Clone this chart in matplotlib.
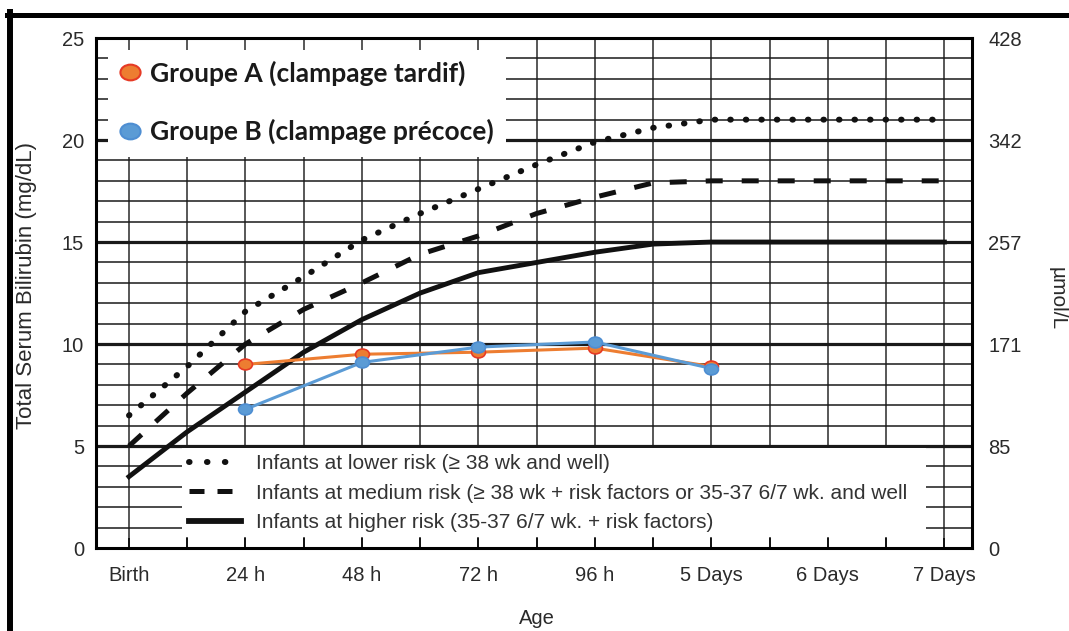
import matplotlib
matplotlib.use("Agg")
import matplotlib.pyplot as plt
from matplotlib.lines import Line2D
from matplotlib.patches import Rectangle
from matplotlib.path import Path

# reference curves (hours after birth -> total serum bilirubin, mg/dL)
curve_hours = [0, 12, 24, 36, 48, 60, 72, 84, 96, 108, 120, 132, 144, 156, 168]
lower_risk = [6.5, 8.9, 11.6, 13.3, 15.1, 16.4, 17.6, 18.8, 19.9, 20.6, 21.0, 21.0, 21.0, 21.0, 21.0]
medium_risk = [5.0, 7.6, 10.0, 11.7, 13.0, 14.4, 15.3, 16.4, 17.2, 17.9, 18.0, 18.0, 18.0, 18.0, 18.0]
higher_risk = [3.5, 5.7, 7.65, 9.6, 11.2, 12.5, 13.5, 14.0, 14.5, 14.9, 15.0, 15.0, 15.0, 15.0, 15.0]

# study groups
group_hours = [24, 48, 72, 96, 120]
group_a = [9.0, 9.5, 9.6, 9.8, 8.9]
group_b = [6.8, 9.1, 9.85, 10.1, 8.8]

tick_hours = [0, 24, 48, 72, 96, 120, 144, 168]
tick_labels = ["Birth", "24 h", "48 h", "72 h", "96 h", "5 Days", "6 Days", "7 Days"]
mg_ticks = [0, 5, 10, 15, 20, 25]
umol_labels = ["0", "85", "171", "257", "342", "428"]

risk_labels = [
    "Infants at lower risk (\u2265 38 wk and well)",
    "Infants at medium risk (\u2265 38 wk + risk factors or 35-37 6/7 wk. and well",
    "Infants at higher risk (35-37 6/7 wk. + risk factors)",
]
group_labels = ["Groupe A (clampage tardif)", "Groupe B (clampage pr\u00e9coce)"]

plt.rcParams["font.family"] = ["Liberation Sans", "DejaVu Sans"]

ORANGE = "#ED7D31"
ORANGE_EDGE = "#E63A25"
BLUE = "#5B9BD5"
BLUE_EDGE = "#4E8ED2"
INK = "#111111"
GREY_TXT = "#2a2a2a"

circ = Path.unit_circle()
ellipse = Path(circ.vertices * [1.0, 0.78], circ.codes)

dotted = (0, (0.1, 2.5))
dashed = (0, (3.4, 3.8))

fig = plt.figure(figsize=(10.69, 6.31), dpi=100)
ax = fig.add_axes([0.0898, 0.1315, 0.8195, 0.8082])
ax.set_xlim(-6.8, 173.7)
ax.set_ylim(0, 25)
ax.set_axisbelow(False)

# chart-paper grid
for h in range(0, 169, 12):
    ax.axvline(h, color="#2a2a2a", lw=1.1, zorder=1)
for v in range(1, 25):
    ax.axhline(v, color="#1a1a1a", lw=2.3 if v % 5 == 0 else 1.1, zorder=1)

# white areas behind the legends
ax.add_patch(Rectangle((0.098, 0.022), 0.849, 0.175, transform=ax.transAxes,
                       facecolor="white", edgecolor="none", zorder=2))
ax.add_patch(Rectangle((0.0137, 0.767), 0.454, 0.209, transform=ax.transAxes,
                       facecolor="white", edgecolor="none", zorder=2))

ax.plot(curve_hours, lower_risk, color=INK, lw=4.3, ls=dotted,
        dash_capstyle="round", zorder=3)
ax.plot(curve_hours, medium_risk, color=INK, lw=3.6, ls=dashed, zorder=3)
ax.plot(curve_hours, higher_risk, color=INK, lw=3.5, zorder=3)

ax.plot(group_hours, group_a, color=ORANGE, lw=2.2, marker=ellipse, ms=10,
        mfc=ORANGE, mec=ORANGE_EDGE, mew=1.2, zorder=4)
ax.plot(group_hours, group_b, color=BLUE, lw=2.2, marker=ellipse, ms=10,
        mfc=BLUE, mec=BLUE_EDGE, mew=1.2, zorder=4)

for side in ax.spines.values():
    side.set_linewidth(2.2)
    side.set_color("black")

ax.set_xticks(tick_hours, tick_labels)
ax.set_xticks([h + 12 for h in tick_hours[:-1]], minor=True)
ax.tick_params(axis="x", which="both", direction="in", length=7, width=1.1,
               color="black", pad=13, labelsize=14.5, labelcolor=GREY_TXT)
ax.set_yticks(mg_ticks)
ax.tick_params(axis="y", length=0, pad=8.5, labelsize=14.5, labelcolor=GREY_TXT)

ax2 = ax.twinx()
ax2.set_ylim(0, 25)
ax2.set_yticks(mg_ticks, umol_labels)
ax2.tick_params(axis="y", length=0, pad=11.5, labelsize=14.5, labelcolor=GREY_TXT)
for side in ax2.spines.values():
    side.set_visible(False)

ax.text(-0.079, 0.514, "Total Serum Bilirubin (mg/dL)", transform=ax.transAxes,
        rotation=90, ha="center", va="center", fontsize=16, color=GREY_TXT)
ax.text(0.503, -0.138, "Age", transform=ax.transAxes,
        ha="center", va="center", fontsize=14.5, color=GREY_TXT)
ax.text(1.097, 0.49, "\u00b5mol/L", transform=ax.transAxes,
        rotation=270, ha="center", va="center", fontsize=15, color=GREY_TXT)

# risk legend (bottom)
risk_handles = [
    Line2D([], [], color=INK, lw=4.3, ls=(0, (0.1, 2.9)), dash_capstyle="round"),
    Line2D([], [], color=INK, lw=3.6, ls=(0, (3.0, 2.6))),
    Line2D([], [], color=INK, lw=4.2),
]
leg1 = ax.legend(risk_handles, risk_labels, loc="upper left",
                 bbox_to_anchor=(0.106, 0.184), frameon=False, borderpad=0,
                 borderaxespad=0, handlelength=2.5, handletextpad=0.72,
                 labelspacing=0.5, fontsize=15, labelcolor="#333333")
leg1.set_zorder(5)
ax.add_artist(leg1)

# group legend (top)
group_handles = [
    Line2D([], [], ls="none", marker=ellipse, ms=14.5, mfc=ORANGE, mec=ORANGE_EDGE, mew=1.5),
    Line2D([], [], ls="none", marker=ellipse, ms=14.5, mfc=BLUE, mec=BLUE_EDGE, mew=1.5),
]
leg2 = ax.legend(group_handles, group_labels, loc="upper left",
                 bbox_to_anchor=(0.0213, 0.956), frameon=False, borderpad=0,
                 borderaxespad=0, handlelength=1.2, handletextpad=0.15,
                 labelspacing=1.25, numpoints=1, labelcolor="#1a1a1a",
                 prop={"family": ["Lato", "DejaVu Sans"], "weight": "bold", "size": 19})
leg2.set_zorder(5)

# outer frame of the pasted figure
fig.add_artist(Line2D([0.0065, 1.0], [1 - 14.5 / 631, 1 - 14.5 / 631],
                      transform=fig.transFigure, color="black", lw=3.6))
fig.add_artist(Line2D([10 / 1069, 10 / 1069], [0.0, 1 - 12 / 631],
                      transform=fig.transFigure, color="black", lw=4.3))

fig.savefig("out.png", dpi=100)
plt.close(fig)
